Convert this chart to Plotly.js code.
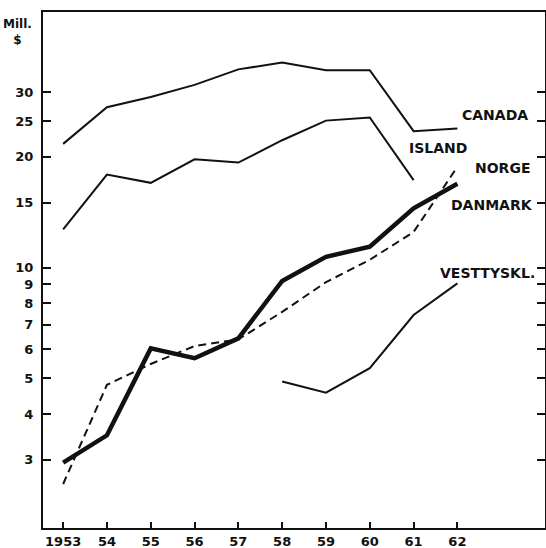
<!DOCTYPE html>
<html>
<head>
<meta charset="utf-8">
<script src="https://cdn.plot.ly/plotly-3.0.1.min.js"></script>
<style>html,body{margin:0;padding:0;background:#fff}#chart{width:546px;height:548px}</style>
</head>
<body>
<div id="chart"></div>
<script>
const years = [1953, 1954, 1955, 1956, 1957, 1958, 1959, 1960, 1961, 1962];
const xTickText = ['1953', '54', '55', '56', '57', '58', '59', '60', '61', '62'];

const canada = [21.7, 27.3, 29.1, 31.4, 34.6, 36.1, 34.4, 34.4, 23.5, 23.9];
const island = [12.7, 17.9, 17.0, 19.7, 19.3, 22.2, 25.1, 25.6, 17.3, null];
const norge = [2.58, 4.8, 5.47, 6.12, 6.38, 7.58, 9.13, 10.5, 12.5, 18.8];
const danmark = [2.95, 3.5, 6.03, 5.67, 6.42, 9.2, 10.7, 11.4, 14.5, 16.9];
const vesttyskl = [null, null, null, null, null, 4.9, 4.57, 5.33, 7.43, 9.06];

const yTickVals = [3, 4, 5, 6, 7, 8, 9, 10, 15, 20, 25, 30];
const yTickText = ['3', '4', '5', '6', '7', '8', '9', '10', '15', '20', '25', '30'];

const seriesLabels = ['CANADA', 'ISLAND', 'NORGE', 'DANMARK', 'VESTTYSKL.'];
const unitLabel = 'Mill.<br>$';

const FONT = 'DejaVu Sans, Liberation Sans, sans-serif';

const traces = [
  {x: years, y: canada, mode: 'lines', line: {color: '#111', width: 2}, name: seriesLabels[0]},
  {x: years, y: island, mode: 'lines', line: {color: '#111', width: 2}, name: seriesLabels[1]},
  {x: years, y: norge, mode: 'lines', line: {color: '#111', width: 2, dash: '8px,5px'}, name: seriesLabels[2]},
  {x: years, y: danmark, mode: 'lines', line: {color: '#111', width: 4.5}, name: seriesLabels[3]},
  {x: years, y: vesttyskl, mode: 'lines', line: {color: '#111', width: 2}, name: seriesLabels[4]}
];

const labelPos = [
  [0.900, 0.800],
  [0.787, 0.736],
  [0.916, 0.698],
  [0.894, 0.626],
  [0.886, 0.494]
];

const annotations = seriesLabels.map((t, i) => ({
  text: t, xref: 'paper', yref: 'paper', x: labelPos[i][0], y: labelPos[i][1],
  xanchor: 'center', yanchor: 'middle', showarrow: false,
  font: {family: FONT, size: 14, color: '#111', weight: 'bold'}
}));
annotations.push({
  text: unitLabel, xref: 'paper', yref: 'paper', x: -0.05, y: 0.962,
  xanchor: 'center', yanchor: 'middle', showarrow: false,
  font: {family: FONT, size: 12, color: '#111', weight: 'bold'}
});

const layout = {
  width: 546, height: 548,
  margin: {l: 43, r: 1, t: 12, b: 20},
  paper_bgcolor: '#fff', plot_bgcolor: '#fff',
  showlegend: false,
  font: {family: FONT, color: '#111'},
  xaxis: {
    range: [1952.54, 1964.0],
    tickvals: years, ticktext: xTickText,
    ticks: 'inside', ticklen: 6, tickwidth: 2, tickcolor: '#111',
    showline: true, linecolor: '#111', linewidth: 2, mirror: true,
    showgrid: false, zeroline: false,
    ticklabelstandoff: 0,
    tickfont: {family: FONT, size: 13, color: '#111', weight: 'bold'}
  },
  yaxis: {
    type: 'log',
    range: [0.292, 1.695],
    tickvals: yTickVals, ticktext: yTickText,
    ticks: 'inside', ticklen: 8, tickwidth: 2, tickcolor: '#111',
    showline: true, linecolor: '#111', linewidth: 2, mirror: 'ticks',
    showgrid: false, zeroline: false,
    ticklabelstandoff: 5,
    tickfont: {family: FONT, size: 13, color: '#111', weight: 'bold'}
  },
  annotations: annotations
};

Plotly.newPlot('chart', traces, layout, {displayModeBar: false, staticPlot: true});
</script>
</body>
</html>
